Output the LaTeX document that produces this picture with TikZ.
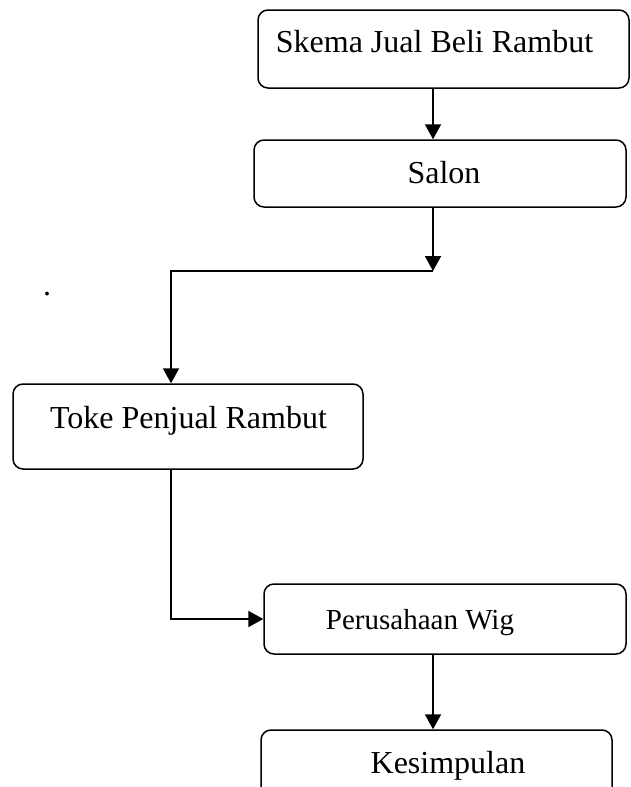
\documentclass[tikz,border=0pt]{standalone}
\usepackage{fontspec}
\setmainfont{Liberation Serif}
\usepackage{tikz}
\usetikzlibrary{arrows.meta, positioning, calc}

\tikzset{
	kotak/.style 2 args={draw, rounded corners=5pt, line width=0.75pt, minimum width={#1*0.5pt}, minimum height={#2*0.5pt}, inner sep=0pt},
	teks/.style={anchor=base, inner sep=0pt, font=\fontsize{16}{19}\selectfont},
	panah/.style={-{Triangle[length=7.5pt, width=8pt]}, line width=1pt}
}

\begin{document}
\begin{tikzpicture}[x=0.5pt, y=-0.5pt]
		% Viewing box of the page
		\useasboundingbox (0,0) rectangle (631,787);
		\clip (0,0) rectangle (631,787);
		
		% 1. Boxes of the scheme
		\node[kotak={371}{78}] (skema) at (443.5,49) {};
		\node[kotak={372}{67}] (salon) at (440,173.5) {};
		\node[kotak={350}{85}] (toke) at (188,426.5) {};
		\node[kotak={362}{70}] (wig) at (445,619) {};
		\node[kotak={351}{75}] (simpul) at (436.5,767.5) {};
		
		% 2. Texts
		\node[teks] (skemateks) at (434.5,53) {Skema Jual Beli Rambut};
		\node[teks] (salonteks) at (444,183) {Salon};
		\node[teks] (toketeks) at (188.5,428) {Toke Penjual Rambut};
		\node[teks, font=\fontsize{14.5}{17}\selectfont] (wigteks) at (420,629) {Perusahaan Wig};
		\node[teks] (simpulteks) at (448,773) {Kesimpulan};
		\node[teks, anchor=center] (titik) at (47,294) {.};
		
		% 3. Connectors
		\coordinate (jalur) at (433,0);
		\coordinate (kiri) at (171,0);
		\coordinate (simpang) at (433,271);
		
		\draw[panah] (skema.south -| jalur) -- (salon.north -| jalur);
		\draw[panah] (salon.south -| jalur) -- (simpang);
		\draw[panah] (simpang) -| (toke.north -| kiri);
		\draw[panah] (toke.south -| kiri) |- (wig.west);
		\draw[panah] (wig.south -| jalur) -- (simpul.north -| jalur);
		
	\end{tikzpicture}
\end{document}
